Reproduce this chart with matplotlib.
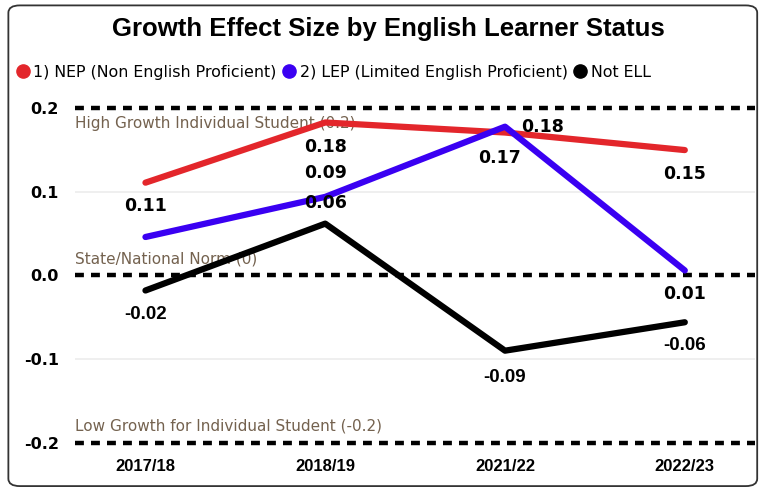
import matplotlib.pyplot as plt
from matplotlib.lines import Line2D
from matplotlib.patches import FancyBboxPatch

years = ["2017/18", "2018/19", "2021/22", "2022/23"]
nep = [0.111, 0.183, 0.171, 0.150]
lep = [0.046, 0.094, 0.178, 0.006]
not_ell = [-0.018, 0.062, -0.090, -0.056]
series_names = ["1) NEP (Non English Proficient)", "2) LEP (Limited English Proficient)", "Not ELL"]
ref_values = [0.2, 0.0, -0.2]
ref_labels = ["High Growth Individual Student (0.2)", "State/National Norm (0)",
              "Low Growth for Individual Student (-0.2)"]
yticks = [-0.2, -0.1, 0.0, 0.1, 0.2]

colors = ["#E3262B", "#3A00F2", "#000000"]
# label offsets in points (dx, dy); None = label hidden (overlap in original)
offsets = [
    [(0, -17), (0, -18), (-4, -18), (0, -17)],
    [None, (0, 17), (27, 0), (0, -17)],
    [(0, -17), (0, 15), (0, -19), (0, -17)],
]

fig = plt.figure(figsize=(7.61, 4.91), dpi=100)
fig.patches.append(FancyBboxPatch((0.011, 0.01), 0.984, 0.979, boxstyle="round,pad=0,rounding_size=0.015",
                                  transform=fig.transFigure, fill=False, edgecolor="#333333", lw=1.3))
ax = fig.add_axes([0.099, 0.0815, 0.893, 0.715])

x = list(range(len(years)))
ax.axhline(0.1, color="#ececec", lw=1.2, zorder=0)
ax.axhline(-0.1, color="#ececec", lw=1.2, zorder=0)
for v in ref_values:
    ax.axhline(v, color="black", lw=3.2, linestyle=(0, (2.0, 1.6)), zorder=1)
ref_offsets = [-11, 12, 12]
for v, txt, dy in zip(ref_values, ref_labels, ref_offsets):
    ax.annotate(txt, (0, v), xycoords=("axes fraction", "data"), xytext=(0, dy),
                textcoords="offset points", va="center", ha="left", fontsize=11,
                color="#74624f", zorder=2)

for vals, c, offs in zip([nep, lep, not_ell], colors, offsets):
    ax.plot(x, vals, color=c, lw=4.5, solid_capstyle="round", zorder=3)
    for xi, v, off in zip(x, vals, offs):
        if off is None:
            continue
        fam = "DejaVu Sans" if v >= 0 else "Liberation Sans"
        fs = 12.5 if v >= 0 else 13.5
        ax.annotate(f"{v:.2f}", (xi, v), xytext=off, textcoords="offset points",
                    ha="center", va="center", fontsize=fs, fontweight="bold",
                    family=fam, zorder=4)

ax.set_xlim(-0.39, 3.39)
ax.set_ylim(-0.21, 0.21)
ax.set_xticks(x)
ax.set_xticklabels(years, fontsize=12, fontweight="bold", family="Liberation Sans")
ax.set_yticks(yticks)
ax.set_yticklabels([f"{t:.1f}" for t in yticks], fontsize=11.5, fontweight="bold", family="DejaVu Sans")
ax.tick_params(axis="y", length=0, pad=12)
ax.tick_params(axis="x", length=0, pad=6)
for s in ax.spines.values():
    s.set_visible(False)

fig.text(0.51, 0.941, "Growth Effect Size by English Learner Status", ha="center", va="center",
         fontsize=18.5, fontweight="bold", family="Liberation Sans")

handles = [Line2D([], [], marker="o", linestyle="", markersize=9.5, color=c) for c in colors]
fig.legend(handles, series_names, loc="center left", bbox_to_anchor=(0.02, 0.853), ncol=3,
           frameon=False, fontsize=11.4, handletextpad=0.15, columnspacing=0.3, handlelength=1.0,
           borderaxespad=0, borderpad=0)

fig.savefig("out.png", dpi=100)
